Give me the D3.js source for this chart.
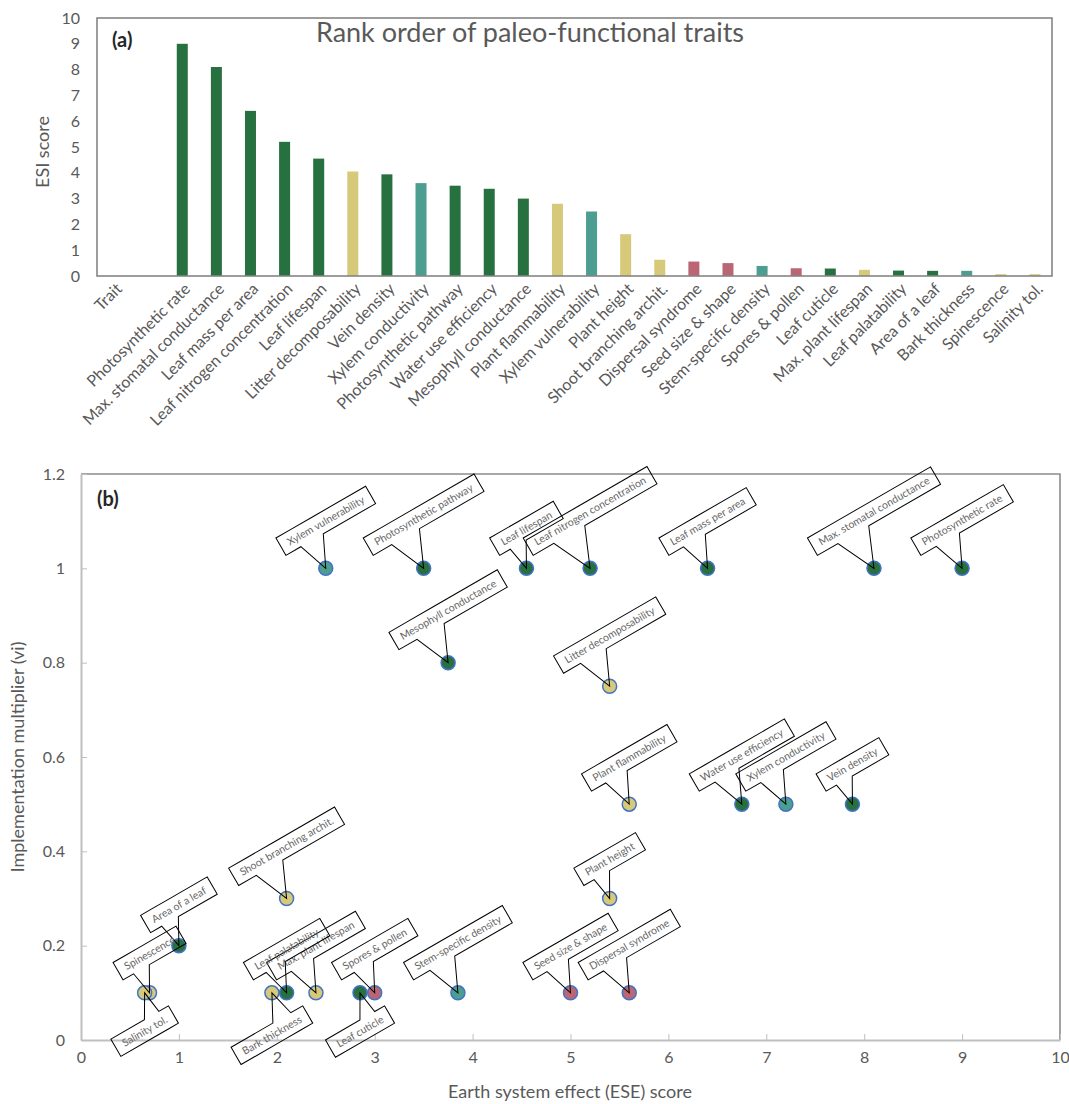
<!DOCTYPE html>
<html>
<head>
<meta charset="utf-8">
<script src="https://cdn.jsdelivr.net/npm/d3@7"></script>
<style>
	body { margin: 0; background: #fff; }
	text { font-family: Lato, "Open Sans", sans-serif; }
</style>
</head>
<body>
<svg id="chart" width="1069" height="1104"></svg>
<script>
// Traits in rank order (panel a left to right)
const traits = ["Photosynthetic rate", "Max. stomatal conductance", "Leaf mass per area",
	"Leaf nitrogen concentration", "Leaf lifespan", "Litter decomposability", "Vein density",
	"Xylem conductivity", "Photosynthetic pathway", "Water use efficiency", "Mesophyll conductance",
	"Plant flammability", "Xylem vulnerability", "Plant height", "Shoot branching archit.",
	"Dispersal syndrome", "Seed size & shape", "Stem-specific density", "Spores & pollen",
	"Leaf cuticle", "Max. plant lifespan", "Leaf palatability", "Area of a leaf",
	"Bark thickness", "Spinescence", "Salinity tol."]

// panel a categories: header row, an empty row, then the traits
const barCategories = ["Trait", ""].concat(traits)

const esiScore   = [9.0, 8.1, 6.4, 5.2, 4.55, 4.05, 3.94, 3.6, 3.5, 3.38, 3.0, 2.8, 2.5, 1.62,
	0.63, 0.56, 0.5, 0.39, 0.3, 0.29, 0.24, 0.21, 0.2, 0.2, 0.07, 0.07]
const eseScore   = [9.0, 8.1, 6.4, 5.2, 4.55, 5.4, 7.88, 7.2, 3.5, 6.75, 3.75, 5.6, 2.5, 5.4,
	2.1, 5.6, 5.0, 3.85, 3.0, 2.85, 2.4, 2.1, 1.0, 1.95, 0.7, 0.65]
const multiplier = [1, 1, 1, 1, 1, 0.75, 0.5, 0.5, 1, 0.5, 0.8, 0.5, 1, 0.3,
	0.3, 0.1, 0.1, 0.1, 0.1, 0.1, 0.1, 0.1, 0.2, 0.1, 0.1, 0.1]

// trait groups (G green, Y yellow, T teal, R rose)
const barGroup   = ["G","G","G","G","G","Y","G","T","G","G","G","Y","T","Y","Y","R","R","T","R","G","Y","G","G","T","Y","Y"]
const pointGroup = ["G","G","G","G","G","Y","G","T","G","G","G","Y","T","Y","Y","R","R","T","R","G","Y","G","G","Y","Y","Y"]

const yTicksA = [0,1,2,3,4,5,6,7,8,9,10]
const xTicksB = [0,1,2,3,4,5,6,7,8,9,10]
const yTicksB = [0,0.2,0.4,0.6,0.8,1,1.2]

// labels that Excel put below their point
const labelsBelow = ["Salinity tol.", "Bark thickness", "Leaf cuticle"]

const colors = {G: "#277040", Y: "#d6c97a", T: "#4c9e90", R: "#bb6674"}
const grey = "#595959"

const svg = d3.select("#chart")

// ---------------- panel (a) ----------------
const aL = 97, aR = 1052, aT = 18, aB = 276
const xA = d3.scalePoint().domain(barCategories).range([aL, aR]).padding(0.5)
const yA = d3.scaleLinear().domain([0, 10]).range([aB, aT])
const barW = 11

const gA = svg.append("g")

gA.append("g")
	.attr("transform", "translate(" + aL + ",0)")
	.call(d3.axisLeft(yA).tickValues(yTicksA).tickSize(0).tickPadding(17))
	.call(g => g.select(".domain").remove())
	.selectAll("text")
	.style("font-size", "16px").style("font-family", "Lato").attr("fill", grey)

gA.selectAll("rect.bar")
	.data(traits)
	.join("rect")
	.attr("class", "bar")
	.attr("x", d => xA(d) - barW / 2)
	.attr("width", barW)
	.attr("y", (d, i) => yA(esiScore[i]))
	.attr("height", (d, i) => yA(0) - yA(esiScore[i]))
	.attr("fill", (d, i) => colors[barGroup[i]])

gA.append("rect")
	.attr("x", aL).attr("y", aT)
	.attr("width", aR - aL).attr("height", aB - aT)
	.attr("fill", "none").attr("stroke", "#858585").attr("stroke-width", 1.6)

// rotated category labels
gA.selectAll("text.cat")
	.data(barCategories.filter(d => d !== ""))
	.join("text")
	.attr("class", "cat")
	.attr("transform", d => "translate(" + (xA(d) + 5) + "," + (aB + 10) + ") rotate(-45)")
	.attr("text-anchor", "end")
	.attr("dy", "0.35em")
	.style("font-size", "16px")
	.attr("fill", grey)
	.text(d => d)

gA.append("text")
	.attr("x", 530).attr("y", 42)
	.attr("text-anchor", "middle")
	.style("font-size", "27px")
	.attr("fill", grey)
	.text("Rank order of paleo-functional traits")

gA.append("text")
	.attr("x", 112).attr("y", 47)
	.style("font-size", "20px").style("font-weight", "bold")
	.attr("fill", "#262626")
	.text("(a)")

gA.append("text")
	.attr("transform", "translate(49,152) rotate(-90)")
	.attr("text-anchor", "middle")
	.style("font-size", "18px")
	.attr("fill", grey)
	.text("ESI score")

// ---------------- panel (b) ----------------
const bL = 81, bR = 1060, bT = 474, bB = 1040
const xB = d3.scaleLinear().domain([0, 10]).range([bL, bR])
const yB = d3.scaleLinear().domain([0, 1.2]).range([bB, bT])

const gB = svg.append("g")

// plot area border (top and right)
gB.append("path")
	.attr("d", "M" + bL + "," + bT + "H" + bR + "V" + bB)
	.attr("fill", "none").attr("stroke", "#8c8c8c").attr("stroke-width", 1.6)

gB.append("g")
	.attr("transform", "translate(0," + bB + ")")
	.call(d3.axisBottom(xB).tickValues(xTicksB).tickSizeInner(-6).tickSizeOuter(0).tickPadding(12))
	.call(g => g.select(".domain").attr("stroke", "#bfbfbf").attr("stroke-width", 2))
	.call(g => g.selectAll(".tick line").attr("stroke", "#bfbfbf"))
	.selectAll("text")
	.style("font-size", "16px").style("font-family", "Lato").attr("fill", grey)

gB.append("g")
	.attr("transform", "translate(" + bL + ",0)")
	.call(d3.axisLeft(yB).tickValues(yTicksB).tickFormat(d3.format("~g"))
		.tickSizeInner(-6).tickSizeOuter(0).tickPadding(16))
	.call(g => g.select(".domain").attr("stroke", "#bfbfbf").attr("stroke-width", 2))
	.call(g => g.selectAll(".tick line").attr("stroke", "#bfbfbf"))
	.selectAll("text")
	.style("font-size", "16px").style("font-family", "Lato").attr("fill", grey)

gB.selectAll("circle.pt")
	.data(traits)
	.join("circle")
	.attr("class", "pt")
	.attr("cx", (d, i) => xB(eseScore[i]))
	.attr("cy", (d, i) => yB(multiplier[i]))
	.attr("r", 7)
	.attr("fill", (d, i) => colors[pointGroup[i]])
	.attr("stroke", "#4472c4")
	.attr("stroke-width", 1.5)

// Excel style wedgeRectCallout, in the label's own (rotated) frame
function calloutPath(w, h, dxPos, dyPos) {
	let l = -w / 2, t = -h / 2, r = w / 2, b = h / 2
	let dq = dxPos * h / w
	let dz = Math.abs(dyPos) - Math.abs(dq)
	let x1 = l + w * (dxPos > 0 ? 7 : 2) / 12, x2 = l + w * (dxPos > 0 ? 10 : 5) / 12
	let y1 = t + h * (dyPos > 0 ? 7 : 2) / 12, y2 = t + h * (dyPos > 0 ? 10 : 5) / 12
	let xl = dz > 0 ? l : (dxPos > 0 ? l : dxPos)
	let yl = dz > 0 ? y1 : (dxPos > 0 ? y1 : dyPos)
	let xt = dz > 0 ? (dyPos > 0 ? x1 : dxPos) : x1
	let yt = dz > 0 ? (dyPos > 0 ? t : dyPos) : t
	let xr = dz > 0 ? r : (dxPos > 0 ? dxPos : r)
	let yr = dz > 0 ? y1 : (dxPos > 0 ? dyPos : y1)
	let xb = dz > 0 ? (dyPos > 0 ? dxPos : x1) : x1
	let yb = dz > 0 ? (dyPos > 0 ? dyPos : b) : b
	let p = [[l,t],[x1,t],[xt,yt],[x2,t],[r,t],[r,y1],[xr,yr],[r,y2],[r,b],[x2,b],[xb,yb],[x1,b],[l,b],[l,y2],[xl,yl],[l,y1]]
	return "M" + p.map(q => q[0].toFixed(2) + "," + q[1].toFixed(2)).join("L") + "Z"
}

const ang = -30 * Math.PI / 180
const lblLayer = gB.append("g")
traits.forEach((t, i) => {
	let px = xB(eseScore[i]), py = yB(multiplier[i])
	let g = lblLayer.append("g")
	let txt = g.append("text")
		.attr("text-anchor", "middle")
		.attr("dy", "0.35em")
		.style("font-size", "10.5px")
		.attr("fill", "#666")
		.text(t)
	let w = txt.node().getComputedTextLength() + 16, h = 20
	let half = w / 2 * Math.abs(Math.sin(ang)) + h / 2 * Math.cos(ang)
	let below = labelsBelow.includes(t)
	let cx = px, cy = below ? py + 13 + half : py - 13 - half
	g.attr("transform", "translate(" + cx + "," + cy + ") rotate(-30)")
	let dx = px - cx, dy = py - cy
	let lx = dx * Math.cos(ang) + dy * Math.sin(ang)
	let ly = -dx * Math.sin(ang) + dy * Math.cos(ang)
	g.insert("path", "text")
		.attr("d", calloutPath(w, h, lx, ly))
		.attr("fill", "none")
		.attr("stroke", "#000")
		.attr("stroke-width", 1)
})

gB.append("text")
	.attr("x", 97).attr("y", 506)
	.style("font-size", "20px").style("font-weight", "bold")
	.attr("fill", "#262626")
	.text("(b)")

gB.append("text")
	.attr("transform", "translate(24,757) rotate(-90)")
	.attr("text-anchor", "middle")
	.style("font-size", "18px")
	.attr("fill", grey)
	.text("Implementation multiplier (vi)")

gB.append("text")
	.attr("x", 570).attr("y", 1098)
	.attr("text-anchor", "middle")
	.style("font-size", "18px")
	.attr("fill", grey)
	.text("Earth system effect (ESE) score")
</script>
</body>
</html>
